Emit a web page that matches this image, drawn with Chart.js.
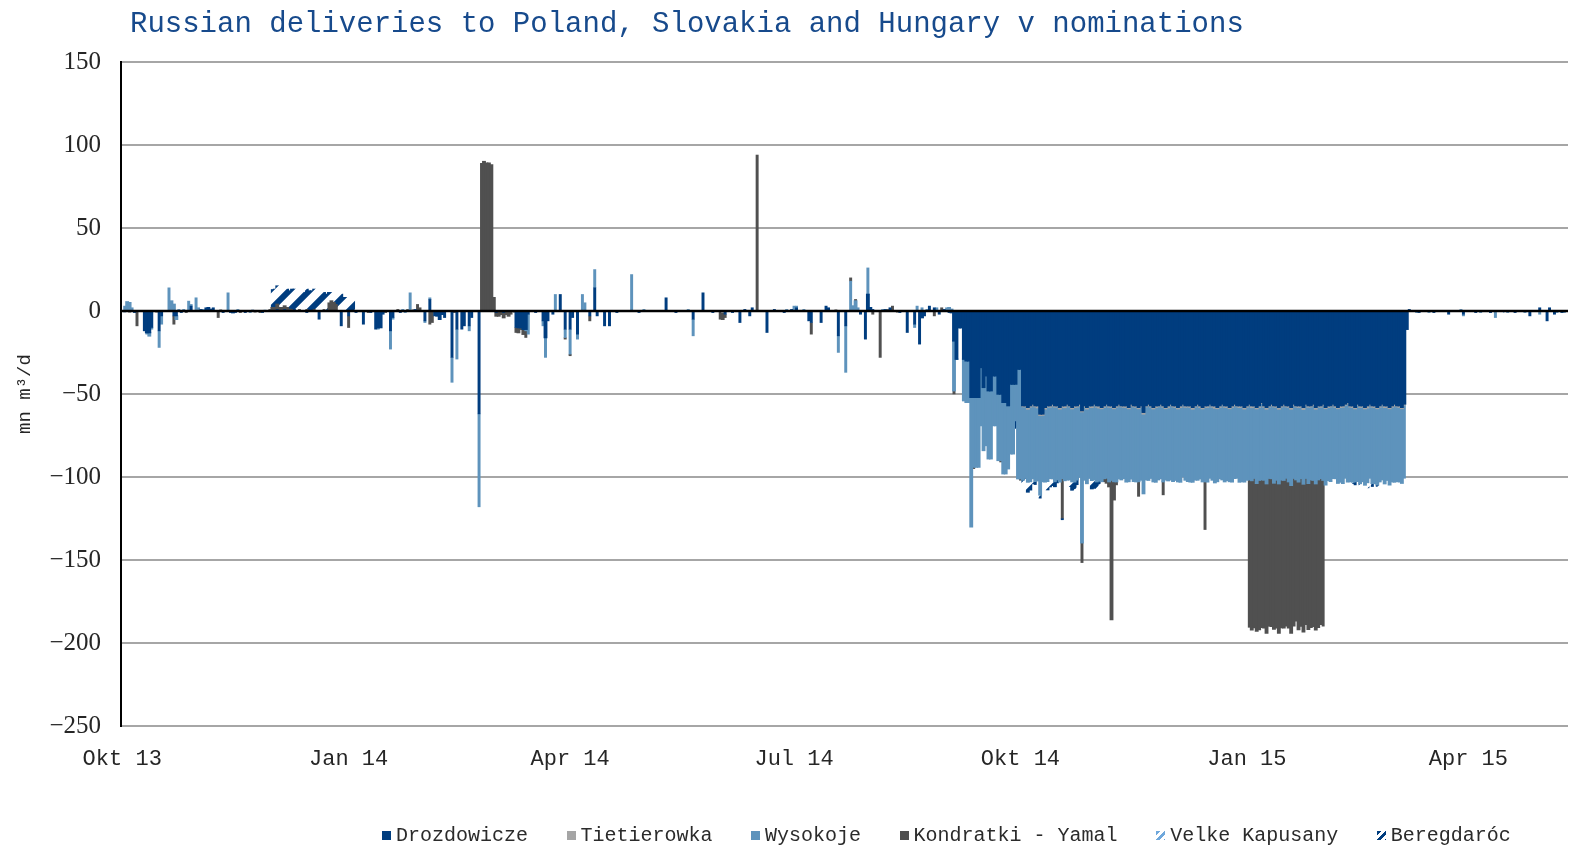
<!DOCTYPE html>
<html>
<head>
<meta charset="utf-8">
<script src="https://cdn.jsdelivr.net/npm/chart.js@4.4.1/dist/chart.umd.min.js"></script>
<style>
  html, body { margin: 0; padding: 0; background: #fff; }
  #wrap { position: relative; width: 1571px; height: 848px; overflow: hidden; }
  #chart { position: absolute; left: 0; top: 0; }
  #title { position: absolute; left: 130px; top: 8px; font: 29px "Liberation Mono", monospace; color: #174A8C; white-space: pre; }
  #legend { position: absolute; left: 382px; top: 824px; display: flex; font: 20px "Liberation Mono", monospace; color: #2b2b2b; white-space: pre; }
  .item { display: flex; align-items: center; margin-right: 38.5px; }
  .box { width: 9px; height: 9px; margin-right: 5px; }
</style>
</head>
<body>
<div id="wrap">
  <canvas id="chart" width="1571" height="848"></canvas>
  <div id="title">Russian deliveries to Poland, Slovakia and Hungary v nominations</div>
  <div id="legend"></div>
</div>
<script>
// ─── Axis data ───────────────────────────────────────────
const DAYS = 588;                       // daily bars from 1 Oct 2013
const START = Date.UTC(2013, 9, 1);
const tickDays = [0, 92, 182, 273, 365, 457, 547];
const tickLabels = ["Okt 13", "Jan 14", "Apr 14", "Jul 14", "Okt 14", "Jan 15", "Apr 15"];
const yMin = -250, yMax = 150, yStep = 50;

const seriesNames = ["Drozdowicze", "Tietierowka", "Wysokoje", "Kondratki - Yamal", "Velke Kapusany", "Beregdaróc"];

// ─── Series values: [day, mn m3/d] for single days, blocks for runs of days ──
const drozdPts = [
  [1,-0.5],[5,-1],[9,-12],[10,-13],[11,-13],[12,-10],[15,-12],[16,-3],[21,-3],[22,-3],[24,-1],[28,3],[32,1],
  [34,2],[35,2],[36,1],[37,2],[41,-1],[44,-1],[45,-1],[46,-1],[50,-1],[53,0.5],[57,-1],[63,1],[66,1],[70,1],
  [75,-1],[80,-5],[89,-9],[92,-3],[95,-1],[98,-8],[101,-1],[103,-11],[104,-10],[105,-10],[106,-2],[109,-12],
  [110,-4],[113,-1],[119,1],[123,-6],[125,7],[127,-3],[128,-3],[129,-5],[130,-2],[131,-4],[134,-28],[136,-11],
  [138,-11],[139,-9],[141,-9],[142,-4],[145,-62],[152,-1],[155,-1],[160,-10],[161,-10],[162,-10],[163,-11],
  [164,-11],[165,-2],[168,-1],[171,-6],[172,-16],[173,-6],[175,-2],[178,10],[180,-11],[182,-11],[183,-4],
  [185,-14],[190,-3],[192,14],[193,-3],[196,-9],[198,-9],[201,-1],[210,-1],[221,8],[225,-1],[232,-5],[236,11],
  [240,-1],[245,-2],[248,-1],[251,-7],[253,1],[255,-3],[256,2],[262,-13],[265,1],[269,-1],[272,1],[274,2],
  [279,-6],[280,-7],[284,-7],[286,3],[287,2],[291,-15],[294,-9],[300,-2],[302,-17],[303,10],[304,2],[305,1],
  [310,1],[312,2],[316,-1],[319,-13],[322,-8],[324,-20],[325,-4],[326,-3],[328,3],[330,2],[332,-2],[334,1],
  [336,-1],[337,-1],[522,-11],[523,1],[527,-1],[533,-1],[539,-2],[545,-2],[550,-1],[556,-1],[566,-1],[572,-3],
  [576,2],[579,-6],[580,2],[582,-2],[585,-1]
];
const drozdBlockStart = 338;
const drozdBlock = [
  -18,-29,-10,-10,-29,-30,-30,-52,-52,-52,-52,-34,-46,-39,-48,-48,-39,-39,-50,-50,-55,-55,-57,-44,-44,-44,-35,-35,
  -57,-57,-58,-57,-56,-57,-57,-62,-62,-58,-57,-57,
  -56,-57,-57,-58,-57,-57,-56,-57,-58,-57,-57,-56,
  -60,-57,-58,-57,-57,-56,-57,-57,-58,-57,-56,-57,
  -57,-58,-57,-56,-57,-57,-57,-58,-56,-57,-57,-58,
  -57,-61,-57,-56,-57,-58,-57,-57,-56,-57,-58,-57,
  -56,-57,-57,-58,-57,-56,-57,-57,-57,-58,-57,-56,
  -57,-58,-57,-57,-56,-57,-57,-58,-57,-56,-57,-57,
  -58,-57,-56,-57,-57,-57,-58,-57,-56,-57,-57,-58,
  -57,-55,-57,-58,-57,-56,-57,-57,-58,-57,-56,-57,
  -57,-58,-56,-57,-57,-57,-58,-56,-57,-57,-56,-58,
  -57,-57,-56,-58,-57,-57,-56,-57,-58,-57,-57,-56,
  -55,-57,-57,-58,-56,-57,-57,-58,-57,-56,-57,-57,
  -58,-57,-56,-57,-57,-58,-57,-56,-57,-57,-58,-56
];

const tietPts = [[3,-1],[14,-1],[40,1],[54,-1],[118,1],[159,-1],[244,-1],[290,1],[315,-1]];
const tietBlockStart = 366;
const tietBlock = [
  -0.8,-0.6,-1,-0.7,-0.9,-0.6,-1.2,-0.8,-0.7,-0.9,-0.6,-0.8,
  -1,-0.7,-0.6,-0.9,-0.8,-1.1,-0.7,-0.6,-0.8,-0.9,-0.7,-1,
  -0.6,-0.8,-0.9,-0.7,-1,-0.6,-0.8,-1.3,-0.7,-0.9,-0.6,-0.8,
  -0.9,-0.7,-0.8,-1,-0.6,-0.8,-0.9,-0.7,-1.1,-0.6,-0.8,-0.7,
  -0.8,-1,-0.6,-0.9,-0.7,-0.8,-1,-0.6,-0.9,-0.8,-0.7,-1.2,
  -0.7,-0.6,-0.9,-0.8,-1,-0.7,-0.8,-0.6,-0.9,-1,-0.7,-0.8,
  -1,-0.8,-0.7,-0.9,-0.6,-0.8,-1.4,-0.7,-0.9,-0.6,-0.8,-1,
  -0.7,-0.9,-0.8,-0.6,-1,-0.7,-0.9,-0.8,-0.6,-1.1,-0.7,-0.8,
  -0.9,-0.6,-0.8,-1,-0.7,-0.9,-0.6,-0.8,-1,-0.7,-0.9,-0.6,
  -0.8,-1,-0.7,-0.6,-0.9,-0.8,-1.2,-0.7,-0.8,-0.6,-0.9,-1,
  -0.6,-0.8,-0.9,-0.7,-1,-0.6,-0.8,-0.9,-0.7,-1,-0.8,-0.6,
  -0.9,-0.7,-1,-0.8,-0.6,-0.9,-0.7,-0.8,-1.3,-0.6,-0.8,-0.9,
  -0.7,-0.8,-0.6,-1,-0.9,-0.7,-0.8,-1,-0.6,-0.9,-0.7,-0.8
];

const wysoPts = [
  [1,3],[2,5.5],[3,5],[4,2],[10,-1],[11,-2],[12,-1],[15,-10],[16,-5],[19,14],[20,6],[21,4],[22,-2],[23,1],
  [25,1],[27,6],[28,1],[30,8],[31,2],[33,1],[43,11],[47,1],[52,-1],[58,0.5],[104,-1],[109,-11],[110,-1],
  [114,1],[115,-1],[117,11],[123,-1],[125,1],[134,-15],[136,-18],[141,-3],[145,-56],[164,-1],[165,-12],
  [171,-3],[172,-12],[176,10],[180,-5],[182,-15],[185,-3],[187,10],[188,5],[192,11],[207,22],[212,1],[230,1],
  [232,-10],[270,1],[273,3],[274,1],[277,1],[291,-10],[294,-28],[296,18],[297,3],[298,6],[299,2],[303,16],
  [309,1],[322,-2],[323,3],[325,2],[327,1],[331,2],[335,2],[336,2],[337,1],
  [526,-1],[531,-1],[544,1],[545,-1],[552,-1],[558,-4],[563,-1],[570,-1],[576,-2],[583,-1],[586,-1]
];
const wysoBlockStart = 338;
const wysoBlock = [
  -30,0,0,0,-25,-25,-25,-78,-42,-42,-42,-35,-38,-42,-41,-41,-30,-30,-40,-40,-43,-43,-38,-42,-42,-22,-66,-66,
  -44,-43,-44,-45,-44,-45,-44,-48,-40,-44,-45,-43,
  -44,-45,-44,-44,-43,-44,-45,-44,-44,-45,-44,-43,
  -79,-44,-45,-43,-44,-45,-45,-44,-44,-43,-44,-45,
  -44,-44,-45,-44,-44,-43,-45,-44,-44,-45,-45,-44,
  -44,-48,-44,-45,-43,-44,-45,-44,-44,-45,-43,-44,
  -45,-45,-44,-44,-45,-43,-44,-45,-45,-44,-44,-45,
  -43,-44,-45,-45,-44,-44,-45,-44,-43,-45,-45,-44,
  -44,-45,-44,-43,-45,-45,-44,-44,-45,-44,-43,-45,
  -44,-46,-44,-45,-43,-44,-46,-44,-45,-44,-45,-43,
  -45,-46,-44,-44,-45,-43,-45,-44,-46,-44,-45,-45,
  -44,-43,-45,-46,-44,-45,-44,-43,-45,-45,-46,-44,
  -47,-45,-45,-44,-46,-46,-45,-46,-45,-44,-46,-46,
  -46,-45,-45,-46,-44,-46,-45,-46,-45,-45,-45,-44
];

const kondPts = [
  [6,-9],[21,-5],[26,-1],[39,-4],[48,-1],[56,-1],[60,1],[61,2],[62,2],[63,3],[64,2],[65,2],[66,2],[67,2],
  [68,1],[69,1],[72,1],[75,1],[78,1],[82,1],[84,5],[85,6],[86,5],[87,4],[92,-7],[100,-1],[107,-1],[112,1],
  [116,1],[120,4],[121,2],[125,-8],[126,-7],[135,-1],[146,89],[147,90],[148,89],[149,89],[150,88],[151,8],
  [152,-2],[153,-3],[154,-2],[155,-3],[156,-2],[157,-3],[158,-2],[160,-3],[161,-3],[162,-1],[163,-3],[164,-4],
  [180,-1],[182,-1],[190,-3],[243,-5],[244,-4],[245,-2],[258,94],[280,-7],[296,2],[298,1],[305,-2],[308,-28],
  [311,1],[313,3],[330,-3],[333,2],
  [338,-2],[346,-1],[357,-1],[365,-1],[382,-24],[390,-12],[399,-2],[400,-3],[401,-3],[402,-84],[403,-11],
  [404,-2],[413,-9],[423,-8],[440,-29]
];
const kondBlockStart = 458;
const kondBlock = [
  -89,-90,-90,-89,-90,-89,-89,-90,-89,-89,-88,-89,-90,-89,-89,-89,-88,-89,-89,-85,-89,-89,-89,-88,-88,-89,-88,-88,-89,-88,-88
];

const velkePts = [[122,2],[560,-1],[561,-1]];

const beregPts = [
  [363,-6],[366,-3],[367,-5],[368,-6],[369,-5],[370,-3],[371,-2],[373,-2],[374,-3],[375,-4],[376,-5],[377,-5],
  [378,-4],[379,-3],[380,-2],[382,-1],[384,-3],[385,-4],[386,-5],[387,-4],[388,-3],[392,-2],[393,-4],[394,-5],
  [395,-5],[396,-4],[397,-2],[500,-1],[501,-2],[503,-1],[505,-2],[506,-3],[507,-2],[508,-2],[510,-1]
];
const beregBlockStart = 61;
const beregBlock = [
  11,11,11,10,11,11,11,11,12,12,12,12,12,11,12,12,12,12,10,10,10,10,10,6,5,6,7,10,10,8,8,8,8,7
];

// ─── Helpers ─────────────────────────────────────────────
function daily(points, blockStart, block) {
  const out = new Array(DAYS).fill(null);
  if (block) block.forEach((v, i) => { out[blockStart + i] = v; });
  points.forEach(([d, v]) => { out[d] = v; });
  return out;
}

function hatch(color, size, lw) {
  const c = document.createElement("canvas");
  c.width = c.height = size;
  const g = c.getContext("2d");
  g.fillStyle = "#fff";
  g.fillRect(0, 0, size, size);
  g.strokeStyle = color;
  g.lineWidth = lw;
  g.beginPath();
  g.moveTo(-3, size + 3); g.lineTo(size + 3, -3);
  g.moveTo(-3, 3); g.lineTo(3, -3);
  g.moveTo(size - 3, size + 3); g.lineTo(size + 3, size - 3);
  g.stroke();
  return g.createPattern(c, "repeat");
}

const labels = Array.from({ length: DAYS }, (_, i) => new Date(START + i * 86400000).toISOString().slice(0, 10));

const COLORS = ["#003D7F", "#A5A5A5", "#5E93BC", "#505050"];
const fills = [
  COLORS[0], COLORS[1], COLORS[2], COLORS[3],
  hatch("#6FA8DC", 20, 6),
  hatch("#003D7F", 20, 6)
];
const legendCss = [
  COLORS[0], COLORS[1], COLORS[2], COLORS[3],
  "repeating-linear-gradient(135deg, #6FA8DC 0 3px, #fff 3px 6px)",
  "repeating-linear-gradient(135deg, #003D7F 0 3px, #fff 3px 6px)"
];

const seriesData = [
  daily(drozdPts, drozdBlockStart, drozdBlock),
  daily(tietPts, tietBlockStart, tietBlock),
  daily(wysoPts, wysoBlockStart, wysoBlock),
  daily(kondPts, kondBlockStart, kondBlock),
  daily(velkePts),
  daily(beregPts, beregBlockStart, beregBlock)
];

// bars that touch a neighbour get a little more overlap so runs of days look solid
function inflate(c) {
  const d = c.dataset.data, i = c.dataIndex;
  return d[i - 1] != null && d[i + 1] != null ? 0.7 : 0.25;
}

// zero line drawn above the bars, like the category axis in the original
const zeroLine = {
  id: "zeroLine",
  afterDatasetsDraw(chart) {
    const { ctx, chartArea, scales } = chart;
    const y = scales.y.getPixelForValue(0);
    ctx.save();
    ctx.strokeStyle = "#000";
    ctx.lineWidth = 2.5;
    ctx.beginPath();
    ctx.moveTo(chartArea.left, y);
    ctx.lineTo(chartArea.right, y);
    ctx.stroke();
    ctx.restore();
  }
};

new Chart(document.getElementById("chart"), {
  type: "bar",
  data: {
    labels,
    datasets: seriesNames.map((name, i) => ({
      label: name,
      data: seriesData[i],
      backgroundColor: fills[i],
      borderWidth: 0,
      barPercentage: 1,
      categoryPercentage: 1,
      inflateAmount: inflate,
    }))
  },
  options: {
    responsive: false,
    animation: false,
    devicePixelRatio: 1,
    layout: { padding: { left: 0, right: 3, top: 62, bottom: 0 } },
    plugins: {
      legend: { display: false },
      title: { display: false },
      tooltip: { enabled: false }
    },
    scales: {
      x: {
        stacked: true,
        grid: { display: false, drawTicks: false },
        border: { display: false },
        ticks: {
          autoSkip: false,
          maxRotation: 0,
          padding: 20,
          color: "#262626",
          font: { family: "Liberation Mono", size: 22 },
          callback: (v, i) => {
            const k = tickDays.indexOf(i);
            return k >= 0 ? tickLabels[k] : null;
          }
        },
        afterFit: s => { s.height = 122; }
      },
      y: {
        stacked: true,
        min: yMin,
        max: yMax,
        grid: { color: "#A6A6A6", lineWidth: 2, drawTicks: false },
        border: { display: true, color: "#000", width: 2 },
        ticks: {
          stepSize: yStep,
          padding: 20,
          color: "#262626",
          font: { family: "Liberation Serif", size: 25 },
          callback: v => (v < 0 ? "\u2212" + Math.abs(v) : String(v))
        },
        title: {
          display: true,
          text: "mn m\u00B3/d",
          color: "#262626",
          font: { family: "Liberation Mono", size: 19 },
          padding: { top: 14, bottom: 0 }
        },
        afterFit: s => { s.width = 121; }
      }
    }
  },
  plugins: [zeroLine]
});

// ─── Legend ──────────────────────────────────────────────
const legendEl = document.getElementById("legend");
seriesNames.forEach((name, i) => {
  const item = document.createElement("div");
  item.className = "item";
  const box = document.createElement("span");
  box.className = "box";
  box.style.background = legendCss[i];
  const txt = document.createElement("span");
  txt.textContent = name;
  item.appendChild(box);
  item.appendChild(txt);
  legendEl.appendChild(item);
});
</script>
</body>
</html>
